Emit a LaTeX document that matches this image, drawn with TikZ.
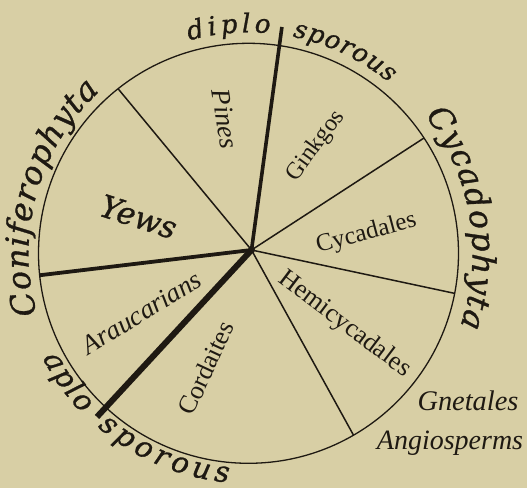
\documentclass[tikz,border=0pt]{standalone}
\usepackage{fontspec}
\setmainfont{Liberation Serif}
\newfontfamily\arcfont[ItalicFeatures={FakeBold=1}]{DejaVu Serif}
\usetikzlibrary{decorations.text}
\definecolor{paper}{RGB}{216,207,165}
\definecolor{ink}{RGB}{30,25,18}
\begin{document}
\begin{tikzpicture}[x=1pt,y=1pt,
  rim/.style={draw=ink, line width=1.3pt},
  thinspoke/.style={draw=ink, line width=1.5pt},
  thickspoke/.style={draw=ink, line width=#1},
  lab/.style={text=ink, inner sep=0pt},
  arctext/.style={decorate, decoration={text along path, text align={fit to path}}},
]
\fill[paper] (0,0) rectangle (527,488);
\useasboundingbox (0,0) rectangle (527,488);
\coordinate (c) at (248.5,234.7);
\coordinate (hub) at (251.5,238);
% spoke ends
\coordinate (eTop) at ([shift={(81.6:228.8pt)}]c);
\coordinate (ePY) at ([shift={(128.4:210pt)}]c);
\coordinate (eGC) at ([shift={(33.3:210pt)}]c);
\coordinate (eCH) at ([shift={(-11.0:210pt)}]c);
\coordinate (eHC) at ([shift={(-60.0:210pt)}]c);
\coordinate (eLeft) at ([shift={(186.0:210pt)}]c);
\coordinate (eAplo) at ([shift={(227.2:223pt)}]c);
% rim
\draw[rim] (c) circle[radius=210pt];
% spokes
\draw[thinspoke] (hub) -- (ePY);
\draw[thinspoke] (hub) -- (eGC);
\draw[thinspoke] (hub) -- (eCH);
\draw[thinspoke] (hub) -- (eHC);
\draw[thickspoke=3.6pt] (hub) -- (eTop);
\draw[thickspoke=3.8pt] (hub) -- (eLeft);
\draw[thickspoke=6pt] (hub) -- (eAplo);
\fill[ink] (hub) circle[radius=3.5pt];
% curved texts
\path[arctext, decoration={text={|\color{ink}\arcfont\itshape\fontsize{26}{28}\selectfont|diplo}}]
  ([shift={(105.6:221pt)}]c) arc[start angle=105.6, end angle=84.4, radius=221pt];
\path[arctext, decoration={text={|\color{ink}\arcfont\itshape\fontsize{25.5}{28}\selectfont|sporous}}]
  ([shift={(78.5:221pt)}]c) arc[start angle=78.5, end angle=50.5, radius=221pt];
\path[arctext, decoration={text={|\color{ink}\arcfont\itshape\fontsize{32}{34}\selectfont|Coniferophyta}}]
  ([shift={(196:220pt)}]c) arc[start angle=196, end angle=132.5, radius=220pt];
\path[arctext, decoration={text={|\color{ink}\arcfont\itshape\fontsize{32}{34}\selectfont|Cycadophyta}}]
  ([shift={(38:224pt)}]c) arc[start angle=38, end angle=-19, radius=224pt];
\path[arctext, decoration={text={|\color{ink}\arcfont\itshape\fontsize{29}{30}\selectfont|aplo}}]
  ([shift={(207:231pt)}]c) arc[start angle=207, end angle=224, radius=231pt];
\path[arctext, decoration={text={|\color{ink}\arcfont\itshape\fontsize{29}{30}\selectfont|sporous}}]
  ([shift={(229:230pt)}]c) arc[start angle=229, end angle=265, radius=230pt];
% sector labels
\node[lab, rotate=-81, font=\itshape\fontsize{27}{28}\selectfont] (pines) at (225,369) {Pines};
\node[lab, rotate=54, font=\fontsize{24}{26}\selectfont] (ginkgos) at (316,342) {Ginkgos};
\node[lab, rotate=15, font=\fontsize{25}{26}\selectfont] (cycadales) at (366.4,254.4) {Cycadales};
\node[lab, rotate=-37, font=\fontsize{26}{28}\selectfont] (hemi) at (344.5,163.6) {Hemicycadales};
\node[lab, rotate=65, font=\fontsize{26}{28}\selectfont] (cordaites) at (205.7,120) {Cordaites};
\node[lab, rotate=31.5, font=\itshape\fontsize{27}{28}\selectfont] (arau) at (141.8,175.4) {Araucarians};
\node[lab, rotate=-18, font=\arcfont\itshape\fontsize{31}{32}\selectfont] (yews) at (138.5,271.2) {Yews};
\node[lab, anchor=base west, font=\itshape\fontsize{28.4}{30}\selectfont] (gnet) at (417.3,78) {Gnetales};
\node[lab, anchor=base west, font=\itshape\fontsize{28}{30}\selectfont] (angio) at (376.7,38.7) {Angiosperms};
\end{tikzpicture}
\end{document}
